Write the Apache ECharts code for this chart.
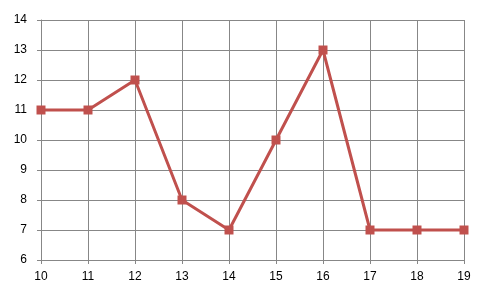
<!DOCTYPE html>
<html><head><meta charset="utf-8">
<script src="https://cdn.jsdelivr.net/npm/echarts@6/dist/echarts.min.js"></script>
<style>html,body{margin:0;padding:0;background:#fff}#c{width:495px;height:300px}</style>
</head><body><div id="c"></div>
<script>
const xValues = [10, 11, 12, 13, 14, 15, 16, 17, 18, 19];
const yValues = [11, 11, 12, 8, 7, 10, 13, 7, 7, 7];
const chart = echarts.init(document.getElementById('c'), null, {renderer: 'canvas'});
const gridColor = '#878787';
const axisCommon = {
  axisLine: {show: true, lineStyle: {color: gridColor, width: 1}},
  axisTick: {show: true, length: 4, lineStyle: {color: gridColor}},
  splitLine: {show: true, lineStyle: {color: gridColor, width: 1}},
  axisLabel: {color: '#000', fontFamily: 'Liberation Sans', fontSize: 12}
};
chart.setOption({
  animation: false,
  backgroundColor: '#fff',
  grid: {left: 41, right: 31, top: 20, bottom: 40, containLabel: false},
  xAxis: Object.assign({type: 'value', min: 10, max: 19, interval: 1}, axisCommon,
    {axisLabel: Object.assign({}, axisCommon.axisLabel, {margin: 11})}),
  yAxis: Object.assign({type: 'value', min: 6, max: 14, interval: 1}, axisCommon,
    {axisLabel: Object.assign({}, axisCommon.axisLabel, {margin: 14})}),
  series: [{
    type: 'line',
    data: xValues.map((x, i) => [x, yValues[i]]),
    symbol: 'rect',
    symbolSize: 9,
    lineStyle: {color: '#C0504D', width: 3},
    itemStyle: {color: '#C0504D'}
  }]
});
</script></body></html>
